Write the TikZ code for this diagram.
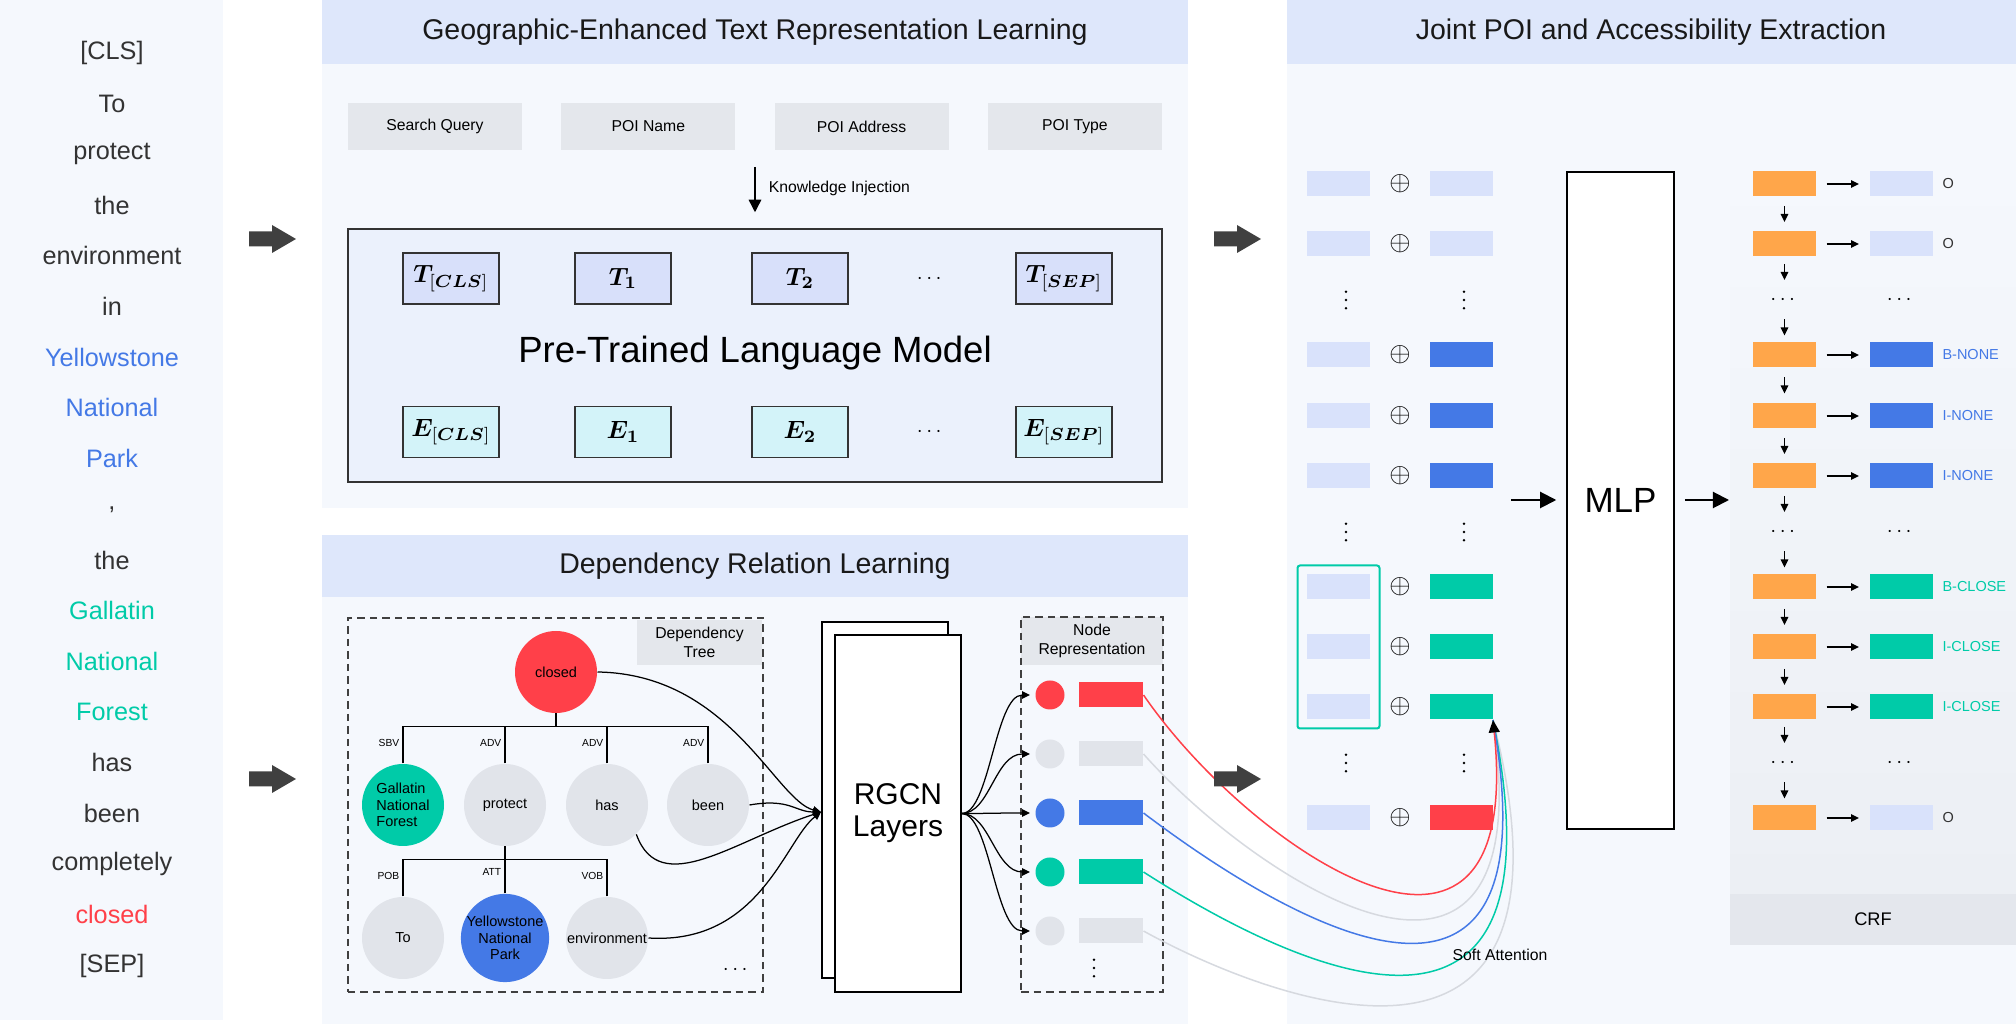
\documentclass[tikz,border=0pt]{standalone}
\usepackage{amsmath}
\usepackage{amssymb}
\usepackage{bm}
\usepackage{fontspec}
\setmainfont{Liberation Sans}
\usetikzlibrary{backgrounds,fit,calc,positioning,arrows.meta}

\definecolor{panelbg}{HTML}{F5F8FD}
\definecolor{bandblue}{HTML}{DEE7FB}
\definecolor{crfbg}{HTML}{ECEFF4}
\definecolor{crfgray}{HTML}{E4E7ED}
\definecolor{inputgray}{HTML}{E4E7EC}
\definecolor{nodegray}{HTML}{E1E4EA}
\definecolor{cellblue}{HTML}{D9E2FB}
\definecolor{tokblue}{HTML}{D8E0FA}
\definecolor{tokcyan}{HTML}{D3F3F9}
\definecolor{plmfill}{HTML}{EBF1FC}
\definecolor{poiblue}{HTML}{4479E6}
\definecolor{poiteal}{HTML}{00CBA8}
\definecolor{poired}{HTML}{FF4049}
\definecolor{crforange}{HTML}{FFA64A}
\definecolor{fatgray}{HTML}{404040}
\definecolor{wordgray}{HTML}{333333}
\definecolor{curvegray}{HTML}{D6D9DF}

\begin{document}
\begin{tikzpicture}[x=0.4pt,y=-0.4pt,>={Triangle[length=3.2pt,width=3pt]}]
    % `word' is used for the tokens of the input sentence.
    % `cell' is used for the small feature blocks on the right.
    % `treenode' is used for the words of the dependency tree.
    \tikzstyle{title} = [font=\fontsize{11.4}{13}\selectfont,text=black!90]
    \tikzstyle{word} = [font=\fontsize{10.1}{12}\selectfont]
    \tikzstyle{small} = [font=\fontsize{6.3}{7.8}\selectfont,align=center]
    \tikzstyle{inputbox} = [fill=inputgray,minimum width=69.6pt,minimum height=18.8pt,small]
    \tikzstyle{token} = [draw=black!80,line width=0.5pt,minimum width=38.4pt,minimum height=20.4pt,inner sep=0pt,font=\fontsize{10}{12}\selectfont]
    \tikzstyle{treenode} = [circle,fill=nodegray,minimum size=32.8pt,inner sep=0pt,align=center,font=\fontsize{5.8}{6.6}\selectfont]
    \tikzstyle{rel} = [font=\fontsize{4.1}{5}\selectfont,anchor=east,inner sep=0.5pt]
    \tikzstyle{dashedbox} = [draw=black!75,dash pattern=on 3pt off 2pt,line width=0.6pt,inner sep=0pt]
    \tikzstyle{repdot} = [circle,minimum size=11.6pt,inner sep=0pt]
    \tikzstyle{repbar} = [minimum width=25.6pt,minimum height=10pt,inner sep=0pt]
    \tikzstyle{cell} = [minimum width=25.2pt,minimum height=10pt,inner sep=0pt]
    \tikzstyle{tag} = [font=\fontsize{5.8}{7}\selectfont,anchor=west,inner sep=0pt]
    \tikzstyle{dots} = [font=\fontsize{8}{9}\selectfont,inner sep=0pt]
    \tikzstyle{vdot} = [inner sep=0pt,minimum size=0pt]
    \useasboundingbox (0,0) rectangle (2016,1024);
    %
    % Input sentence.
    \foreach \col/\w [count=\i from 0] in {wordgray/{[CLS]},wordgray/To,wordgray/protect,wordgray/the,
        wordgray/environment,wordgray/in,poiblue/Yellowstone,poiblue/National,poiblue/Park,wordgray/{,},
        wordgray/the,poiteal/Gallatin,poiteal/National,poiteal/Forest,wordgray/has,wordgray/been,
        wordgray/completely,poired/closed,wordgray/{[SEP]}}
      \node[word,text=\col] (w\i) at (112,{53+50.7*\i}) {\w};
    %
    % Geographic-enhanced text representation.
    \node[title] (geotitle) at (755,32) {Geographic-Enhanced Text Representation Learning};
    \foreach \lab [count=\i] in {Search Query,POI Name,POI Address,POI Type}
      \node[inputbox] (in\i) at ({435+213.3*(\i-1)},126.5) {\lab};
    \coordinate (kitop) at (755,167);
    \node[draw=black!80,fill=plmfill,line width=0.6pt,minimum width=325.6pt,minimum height=101.2pt] (plm) at (755,355.5) {};
    \draw[-{Triangle[length=5pt,width=5pt]},line width=0.6pt,shorten >=6.4pt] (kitop) -- (kitop |- plm.north);
    \node[small,anchor=west] (kilabel) at (760,188) {Knowledge Injection};
    \node[font=\fontsize{14.6}{17}\selectfont] (plmtext) at (755,353) {Pre-Trained Language Model};
    \foreach \x/\n/\s in {451/cls/{[\bm{CLS}]},623/1/{\bm{1}},800/2/{\bm{2}},1064/sep/{[\bm{SEP}]}} {
      \node[token,fill=tokblue] (T\n) at (\x,278.5) {$\bm{T}_{\s}$};
      \node[token,fill=tokcyan] (E\n) at (\x,432) {$\bm{E}_{\s}$};
    }
    \node[dots] (Tdots) at (931,278.5) {$\cdots$};
    \node[dots] (Edots) at (931,432) {$\cdots$};
    %
    % Dependency relation learning.
    \node[title] (deptitle) at (755,566) {Dependency Relation Learning};
    \node[fill=inputgray,minimum width=50pt,minimum height=18pt,small,inner sep=0pt] (deplabel) at (699.5,642.5) {Dependency\\Tree};
    \node[dashedbox,minimum width=166pt,minimum height=149.6pt] (deptree) at (555.5,805) {};
    \node[treenode,fill=poired] (closed) at (556,672) {closed};
    \node[treenode,fill=poiteal,align=left] (gallatin) at (403,805) {Gallatin\\National\\Forest};
    \node[treenode] (protect) at (505,805) {protect};
    \node[treenode] (has) at (607,805) {has};
    \node[treenode] (been) at (708,805) {been};
    \node[treenode] (to) at (403,938) {To};
    \node[treenode,fill=poiblue] (yellow) at (505,938) {Yellowstone\\National\\Park};
    \node[treenode] (envir) at (607,938) {environment};
    \node[dots] (treedots) at (737,970) {$\cdots$};
    \draw[line width=0.5pt] (closed.south) -- ++(0,13);
    \foreach \nd/\r in {gallatin/SBV,protect/ADV,has/ADV,been/ADV} {
      \draw[line width=0.5pt] (\nd.north) |- ($(closed.south)+(0,13)$);
      \node[rel] (r\nd) at ($(\nd.north)+(-2,-21)$) {\r};
    }
    \draw[line width=0.5pt] (protect.south) -- (yellow.north);
    \foreach \nd/\r in {to/POB,yellow/ATT,envir/VOB} {
      \draw[line width=0.5pt] (\nd.north) |- ($(protect.south)+(0,13)$);
      \node[rel] (r\nd) at ($(\nd.north)+(-2,-21)$) {\r};
    }
    % RGCN layers.
    \node[draw,fill=white,line width=0.6pt,minimum width=50.4pt,minimum height=142.4pt] (rgcnback) at (885,800) {};
    \node[draw,fill=white,line width=0.6pt,minimum width=50.4pt,minimum height=142.8pt,align=center,
          font=\fontsize{12}{12.8}\selectfont] (rgcn) at (898,813.5) {RGCN\\Layers};
    \coordinate (rgcnin) at (821,812);
    \draw[->,line width=0.5pt] (closed.east) .. controls (730,674) and (775,800) .. (rgcnin);
    \draw[->,line width=0.5pt] (been.east) .. controls (790,798) and (795,812) .. (rgcnin);
    \draw[->,line width=0.5pt] (has.south east) .. controls (660,900) and (735,840) .. (rgcnin);
    \draw[->,line width=0.5pt] (envir.east) .. controls (760,945) and (785,840) .. (rgcnin);
    %
    % Node representation.
    \node[fill=inputgray,minimum width=56.8pt,minimum height=19.2pt,small,inner sep=0pt] (replabel) at (1092,641) {Node\\Representation};
    \node[dashedbox,minimum width=56.8pt,minimum height=150pt] (repbox) at (1092,804.5) {};
    \foreach \col/\y [count=\i] in {poired/695,nodegray/754,poiblue/813,poiteal/872,nodegray/931} {
      \node[repdot,fill=\col] (rd\i) at (1050,\y) {};
      \node[repbar,fill=\col] (rb\i) at (1111,\y) {};
      \draw[->,line width=0.5pt,shorten >=2pt] (rgcn.east) .. controls +(28,0) and +(-40,0) .. (rd\i.west);
    }
    \node[vdot] (repdots) at (1094,968) {};
    %
    % Joint POI and accessibility extraction.
    \node[title] (jointtitle) at (1651,32) {Joint POI and Accessibility Extraction};
    \foreach \y/\b/\o/\lab/\tc [count=\i] in {184/cellblue/cellblue/O/wordgray,244/cellblue/cellblue/O/wordgray,
        355/poiblue/poiblue/B-NONE/poiblue,416/poiblue/poiblue/I-NONE/poiblue,476/poiblue/poiblue/I-NONE/poiblue,
        587/poiteal/poiteal/B-CLOSE/poiteal,647/poiteal/poiteal/I-CLOSE/poiteal,707/poiteal/poiteal/I-CLOSE/poiteal,
        818/poired/cellblue/O/wordgray} {
      \node[cell,fill=cellblue] (a\i) at (1338.5,\y) {};
      \node[font=\fontsize{11}{12}\selectfont,inner sep=0pt] (plus\i) at (1400,\y) {$\oplus$};
      \node[cell,fill=\b] (b\i) at (1461,\y) {};
      \node[cell,fill=crforange] (c\i) at (1784.5,\y) {};
      \node[cell,fill=\o] (o\i) at (1901,\y) {};
      \node[tag,text=\tc] (t\i) at (1942,\y) {\lab};
      \draw[->,line width=0.6pt,shorten <=4pt,shorten >=4pt] (c\i) -- (o\i);
    }
    \foreach \y [count=\i] in {300,532,763} {
      \node[vdot] (ad\i) at (1346,\y) {};
      \node[vdot] (bd\i) at (1464,\y) {};
      \node[dots] (cd\i) at (1784.5,\y) {$\cdots$};
      \node[dots] (od\i) at (1901,\y) {$\cdots$};
    }
    % Vertical dots drawn as three small discs.
    \foreach \d in {ad1,ad2,ad3,bd1,bd2,bd3,repdots}
      \foreach \k in {-1,0,1}
        \fill ($(\d)+(0,8.3*\k)$) circle (1.4);
    \foreach \p/\q in {c1/c2,c2/cd1,cd1/c3,c3/c4,c4/c5,c5/cd2,cd2/c6,c6/c7,c7/c8,c8/cd3,cd3/c9}
      \draw[->,line width=0.6pt] ($(\p)!0.5!(\q)+(0,-8)$) -- ($(\p)!0.5!(\q)+(0,8)$);
    \node[draw=poiteal,line width=0.8pt,rounded corners=1pt,fit=(a6)(a8),inner xsep=3.6pt,inner ysep=3.4pt] (tealgroup) {};
    \node[draw,fill=white,line width=0.6pt,minimum width=42.8pt,minimum height=262.8pt,
          font=\fontsize{14}{16}\selectfont] (mlp) at (1620.5,500.5) {MLP};
    \coordinate (mlpin) at (1511,500);
    \coordinate (crfin) at (1729,500);
    \draw[-{Triangle[length=6.5pt,width=6.5pt]},line width=0.8pt,shorten >=4pt] (mlpin) -- (mlpin -| mlp.west);
    \draw[-{Triangle[length=6.5pt,width=6.5pt]},line width=0.8pt,shorten <=4pt] (mlpin -| mlp.east) -- (crfin);
    \node[fill=crfgray,minimum width=114.4pt,minimum height=20.4pt,font=\fontsize{7.3}{9}\selectfont] (crf) at (1873,919.5) {CRF};
    %
    % Soft attention from the node representation.
    \foreach \i/\col/\ax/\ay/\bx/\by in {2/curvegray/1255/880/1545/1070,5/curvegray/1250/990/1600/1140,
        4/poiteal/1265/950/1575/1120,3/poiblue/1265/905/1560/1095}
      \draw[\col,line width=0.6pt] (rb\i.east) .. controls (\ax,\ay) and (\bx,\by) .. (b8.south east);
    \draw[poired,line width=0.6pt,-{Triangle[length=5pt,width=4.4pt,color=black]}] (rb1.east) .. controls (1250,850) and (1525,1035) .. (b8.south east);
    \node[small] (softatt) at (1500,955) {Soft Attention};
    %
    % Thick arrows between the parts.
    \foreach \ax/\ay in {249/239,249/779,1214/239,1214/779}
      \fill[fatgray,shift={(\ax,\ay)}] (0,-7.5) -- (23,-7.5) -- (23,-14) -- (47,0) -- (23,14) -- (23,7.5) -- (0,7.5) -- cycle;
    %
    \begin{pgfonlayer}{background}
        % Draw background panels.
        \fill[white] (0,0) rectangle (2016,1024);
        \fill[panelbg] (0,0) rectangle (223,1020);
        \fill[panelbg] (322,64) rectangle (1188,508);
        \fill[bandblue] (322,0) rectangle (1188,64);
        \fill[panelbg] (322,597) rectangle (1188,1024);
        \fill[bandblue] (322,535) rectangle (1188,597);
        \fill[panelbg] (1287,64) rectangle (2016,1024);
        \fill[bandblue] (1287,0) rectangle (2016,64);
        \shade[top color=panelbg,bottom color=crfbg] (1730,165) rectangle (2016,894);
    \end{pgfonlayer}
\end{tikzpicture}
\end{document}
